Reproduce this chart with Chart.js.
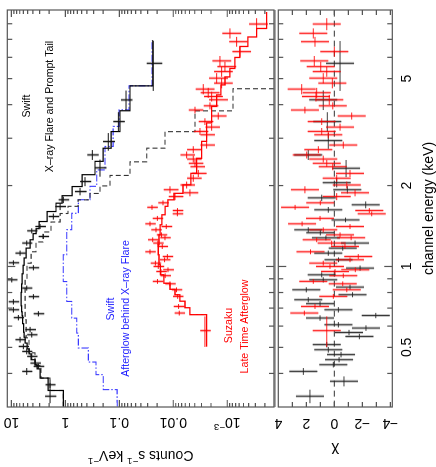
<!DOCTYPE html>
<html>
<head>
<meta charset="utf-8">
<script src="https://cdn.jsdelivr.net/npm/chart.js@4.4.1/dist/chart.umd.min.js"></script>
<style>
  html, body { margin: 0; padding: 0; background: #fff; overflow: hidden; width: 436px; height: 467px; }
  /* the plot is drawn landscape and turned a quarter turn, like the printed figure */
  #wrap { position: absolute; left: 0; top: 0; width: 467px; height: 436px;
          transform-origin: 0 0; transform: translateY(467px) rotate(-90deg); }
  #main { position: absolute; left: 0; top: 0; }
  #resid { position: absolute; left: 0; top: 262px; }
</style>
</head>
<body>
<div id="wrap">
  <canvas id="main" width="467" height="276"></canvas>
  <canvas id="resid" width="467" height="174"></canvas>
</div>
<script>
// axis ranges
const eMin = 0.301, eMax = 9.0;
const cMin = 1.36e-4, cMax = 11.9;
const chiMin = -4.14, chiMax = 4.0;

// tick values / labels
const energyTicks = [0.4, 0.5, 0.6, 0.7, 0.8, 0.9, 1, 2, 3, 4, 5, 6, 7, 8];
const energyLabels = [0.5, 1, 2, 5];
const countDecades = [10, 1, 0.1, 0.01, 0.001];
const countLabels = ['10', '1', '0.1', '0.01', '10^−3'];
const chiTicks = [-4, -3, -2, -1, 0, 1, 2, 3];
const chiLabels = [4, 2, 0, -2, -4];

// Swift (black) spectrum: energy (keV), half bin width, counts/s/keV, error
const bE  = [0.329, 0.363, 0.407, 0.425, 0.437, 0.463, 0.483, 0.504, 0.534, 0.557, 0.582, 0.645, 0.667, 0.690, 0.739, 0.772, 0.831, 0.892, 0.989, 1.032, 1.121, 1.222, 1.293, 1.357, 1.408, 1.534, 1.671, 1.770, 1.900, 2.070, 2.328, 2.601, 2.916, 3.46, 4.165, 5.7];
const bEw = [0.019, 0.016, 0.012, 0.01, 0.01, 0.012, 0.012, 0.012, 0.013, 0.013, 0.014, 0.015, 0.015, 0.016, 0.017, 0.017, 0.018, 0.02, 0.022, 0.022, 0.025, 0.027, 0.028, 0.03, 0.03, 0.04, 0.05, 0.05, 0.06, 0.08, 0.17, 0.11, 0.22, 0.29, 0.35, 1.2];
const bC  = [1.92, 1.92, 5.19, 3.16, 3.64, 4.19, 5.19, 6.0, 6.9, 4.19, 4.5, 7.42, 3.16, 9.18, 9.18, 3.91, 5.19, 9.83, 3.91, 9.18, 6.9, 5.19, 2.56, 4.19, 2.94, 1.67, 1.25, 1.09, 0.534, 0.432, 0.228, 0.316, 0.16, 0.104, 0.0751, 0.0235];
const bCe = [0.45, 0.4, 1.1, 0.7, 0.8, 0.9, 1.1, 1.3, 1.5, 0.9, 1.0, 1.6, 0.7, 2.0, 2.0, 0.85, 1.1, 2.1, 0.85, 2.0, 1.5, 1.1, 0.56, 0.9, 0.65, 0.37, 0.28, 0.24, 0.13, 0.1, 0.055, 0.075, 0.04, 0.025, 0.018, 0.0075];

// Swift total model (step)
const bModE = [0.301, 0.329, 0.363, 0.407, 0.425, 0.437, 0.463, 0.483, 0.504, 0.534, 0.557, 0.582, 0.645, 0.667, 0.690, 0.739, 0.772, 0.831, 0.892, 0.989, 1.032, 1.121, 1.222, 1.293, 1.357, 1.408, 1.534, 1.671, 1.770, 1.900, 2.070, 2.328, 2.601, 2.916, 3.46, 4.165, 5.3, 6.96];
const bModC = [1.09, 1.09, 2.09, 2.94, 3.34, 3.64, 4.31, 4.70, 5.12, 5.57, 5.82, 5.94, 6.2, 6.33, 6.47, 6.6, 6.6, 6.47, 6.33, 6.06, 5.82, 5.34, 4.5, 3.97, 3.49, 3.07, 2.18, 1.49, 1.15, 0.751, 0.49, 0.282, 0.2, 0.142, 0.097, 0.0634, 0.024, 0.024];

// X-ray flare + prompt tail component (dashed)
const flareE = [0.301, 0.329, 0.363, 0.407, 0.450, 0.506, 0.582, 0.69, 0.82, 0.97, 1.09, 1.18, 1.29, 1.40, 1.53, 1.62, 1.73, 1.81, 1.93, 2.06, 2.31, 2.60, 2.92, 3.45, 4.17, 5.04, 9.0];
const flareC = [1.09, 1.09, 1.92, 2.82, 3.64, 4.70, 5.34, 5.57, 5.57, 5.12, 4.31, 3.49, 2.59, 1.84, 1.25, 0.89, 0.58, 0.349, 0.228, 0.149, 0.0634, 0.0311, 0.01425, 0.00396, 0.000784, 0.00001, 0.00001];

// afterglow behind the flare (blue dash-dot)
const aglowE = [0.301, 0.325, 0.373, 0.42, 0.463, 0.534, 0.598, 0.690, 0.796, 0.97, 1.26, 1.49, 1.67, 1.88, 2.10, 2.49, 3.14, 3.51, 4.17, 5.3, 6.96];
const aglowC = [0.109, 0.110, 0.198, 0.27, 0.375, 0.574, 0.615, 0.761, 0.942, 1.09, 0.942, 0.761, 0.574, 0.349, 0.262, 0.184, 0.13, 0.101, 0.066, 0.0248, 0.0248];

// Suzaku (red) spectrum
const rE  = [7.98, 7.37, 6.86, 6.30, 5.82, 5.54, 5.31, 5.02, 4.81, 4.57, 4.43, 4.29, 4.17, 3.96, 3.82, 3.63, 3.46, 3.30, 3.18, 3.09, 2.83, 2.72, 2.60, 2.51, 2.42, 2.35, 2.22, 2.13, 2.01, 1.93, 1.88, 1.82, 1.66, 1.615, 1.57, 1.51, 1.408, 1.369, 1.311, 1.257, 1.222, 1.187, 1.089, 1.059, 1.029, 1.0, 0.958, 0.924, 0.880, 0.819, 0.774, 0.710, 0.671, 0.577, 1.725, 1.441, 1.279, 1.134, 0.972, 0.862];
const rEw = [0.41, 0.32, 0.29, 0.27, 0.25, 0.24, 0.23, 0.22, 0.21, 0.20, 0.19, 0.18, 0.18, 0.12, 0.11, 0.11, 0.10, 0.10, 0.095, 0.093, 0.085, 0.082, 0.078, 0.075, 0.073, 0.07, 0.067, 0.064, 0.06, 0.058, 0.056, 0.055, 0.035, 0.034, 0.033, 0.032, 0.03, 0.029, 0.028, 0.026, 0.026, 0.025, 0.023, 0.022, 0.022, 0.021, 0.02, 0.019, 0.018, 0.017, 0.016, 0.015, 0.014, 0.075, 0.036, 0.03, 0.027, 0.024, 0.02, 0.018];
const rC  = [2.855e-4, 8.91e-4, 6.70e-4, 5.82e-4, 1.365e-3, 1.103e-3, 1.27e-3, 1.571e-3, 1.27e-3, 2.78e-3, 2.25e-3, 1.945e-3, 1.571e-3, 2.09e-3, 3.96e-3, 1.468e-3, 2.59e-3, 1.945e-3, 3.20e-3, 2.41e-3, 2.41e-3, 4.26e-3, 5.65e-3, 4.26e-3, 3.96e-3, 3.69e-3, 3.44e-3, 4.26e-3, 5.65e-3, 0.01151, 4.91e-3, 9.30e-3, 0.0248, 8.36e-3, 8.40e-3, 0.0197, 0.01348, 0.0209, 0.01654, 0.02407, 0.01929, 0.01599, 0.01286, 0.0145, 0.02146, 0.01896, 0.0169, 0.01413, 0.01962, 8.72e-3, 8.29e-3, 7.98e-3, 7.74e-3, 2.59e-3, 0.01551, 0.027, 0.01425, 0.027, 0.01253, 0.01151];
const rCe = [1.08e-4, 3.4e-4, 2.5e-4, 2.2e-4, 5.2e-4, 4.2e-4, 4.8e-4, 6.0e-4, 4.8e-4, 1.06e-3, 8.6e-4, 7.4e-4, 6.0e-4, 6.3e-4, 1.19e-3, 4.4e-4, 7.8e-4, 5.8e-4, 9.6e-4, 7.2e-4, 7.2e-4, 1.28e-3, 1.7e-3, 1.28e-3, 1.19e-3, 1.11e-3, 1.03e-3, 1.28e-3, 1.7e-3, 3.5e-3, 1.47e-3, 2.8e-3, 5.5e-3, 1.84e-3, 1.85e-3, 4.3e-3, 3.0e-3, 4.6e-3, 3.6e-3, 5.3e-3, 4.2e-3, 3.5e-3, 2.8e-3, 3.2e-3, 4.7e-3, 4.2e-3, 3.7e-3, 3.1e-3, 4.3e-3, 1.9e-3, 1.8e-3, 1.8e-3, 1.7e-3, 5.7e-4, 3.4e-3, 5.9e-3, 3.1e-3, 5.9e-3, 2.8e-3, 2.5e-3];
const rChi = [0.54, 1.5, 1.38, 0, 1.43, 0.97, 0.54, 0.79, 0.14, 2.33, 1.26, 1.31, 0.36, 0.11, 2.1, -1.24, 0.9, -0.41, 0.9, 0.43, -0.64, 1.14, 1.97, 0.79, 0.54, 0.11, -1.12, -0.17, -0.89, 2.1, -1.48, -0.17, 2.8, -2.5, -2.67, 1.02, -1.12, 0.79, -0.41, 1.26, 0.19, -0.76, -1.71, -1.12, 0.79, 0.31, -0.05, -0.64, 1.5, -0.89, 0.07, 1.38, 2.14, 0.54, 1.0, 2.3, -1.2, 1.7, -1.5, -0.6];

// Suzaku model (step)
const rModE = [0.503, 0.64, 0.684, 0.721, 0.765, 0.805, 0.840, 0.893, 0.972, 1.059, 1.154, 1.257, 1.369, 1.492, 1.625, 1.725, 1.816, 1.928, 2.101, 2.348, 2.716, 3.141, 3.728, 4.166, 4.539, 4.944, 5.204, 5.717, 6.283, 6.902, 7.393, 7.984, 8.846];
const rModC = [0.0024, 0.0024, 0.00491, 0.00607, 0.00752, 0.0093, 0.0115, 0.0149, 0.0173, 0.0184, 0.0190, 0.0184, 0.0176, 0.0162, 0.0142, 0.01254, 0.0097, 0.0066, 0.0047, 0.00369, 0.00298, 0.0024, 0.00194, 0.00157, 0.00131, 0.0011, 0.000891, 0.00072, 0.000582, 0.000414, 0.000286, 0.000186, 0.000186];

// Swift residuals
const bResE   = [0.329, 0.374, 0.407, 0.431, 0.450, 0.470, 0.490, 0.512, 0.549, 0.568, 0.590, 0.607, 0.643, 0.657, 0.690, 0.727, 0.752, 0.785, 0.819, 0.838, 0.892, 0.931, 0.986, 1.059, 1.121, 1.17, 1.222, 1.278, 1.335, 1.369, 1.49, 1.625, 1.696, 1.80, 1.93, 2.05, 2.32, 2.60, 2.94, 3.46, 4.17, 5.7];
const bResEw  = [0.019, 0.016, 0.012, 0.01, 0.01, 0.011, 0.012, 0.012, 0.013, 0.013, 0.014, 0.014, 0.015, 0.015, 0.016, 0.016, 0.017, 0.017, 0.018, 0.018, 0.02, 0.02, 0.022, 0.022, 0.025, 0.025, 0.027, 0.027, 0.03, 0.03, 0.03, 0.04, 0.05, 0.05, 0.06, 0.08, 0.17, 0.11, 0.2, 0.29, 0.35, 1.2];
const bResChi = [1.74, -0.69, 2.21, 0.07, -0.34, -0.48, 0.43, 0.54, -1.79, -1.05, -2.26, -0.29, 1.02, -2.96, -0.29, 1.02, 1.86, -1.3, 2.0, -1.12, 0.79, 0.9, -1.84, -0.3, 0.43, -0.6, -1.48, 0.6, 1.0, 1.86, -0.8, 0.43, -2.24, 0.9, -0.93, -0.17, -0.84, 1.86, 0.43, 0.5, 0.79, -0.41];

// in-plot notes (landscape pixel positions)
const notes = [
  { text: 'Swift', color: '#000', x: 361, y: 27.5 },
  { text: 'X–ray Flare and Prompt Tail', color: '#000', x: 360.5, y: 50.3 },
  { text: 'Swift', color: '#2222ff', x: 158, y: 111 },
  { text: 'Afterglow behind X–ray Flare', color: '#2222ff', x: 158.5, y: 126 },
  { text: 'Suzaku', color: '#ff0000', x: 141.5, y: 229 },
  { text: 'Late Time Afterglow', color: '#ff0000', x: 140.5, y: 245 }
];

const FONT = '"Liberation Sans", Arial, Helvetica, sans-serif';
const AX = '#555';

// error crosses as broken line segments; part: 'x', 'y' or 'xy'
function crossData(e, ew, v, ve, part) {
  const pts = [];
  for (let i = 0; i < e.length; i++) {
    const err = Array.isArray(ve) ? ve[i] : ve;
    if (part !== 'y') {
      pts.push({ x: e[i] - ew[i], y: v[i] }, { x: e[i] + ew[i], y: v[i] }, { x: e[i], y: null });
    }
    if (part !== 'x') {
      pts.push({ x: e[i], y: v[i] - err }, { x: e[i], y: v[i] + err }, { x: e[i], y: null });
    }
  }
  return pts;
}

function xy(xs, ys) {
  return xs.map((x, i) => ({ x: x, y: ys[i] }));
}

function richText(ctx, str, x, y, size) {
  const items = str.split(/(\^\S+)/).filter(s => s.length).map(p =>
    p[0] === '^' ? { t: p.slice(1), sup: true } : { t: p, sup: false });
  let w = 0;
  items.forEach(it => {
    ctx.font = (it.sup ? size * 0.7 : size) + 'px ' + FONT;
    it.w = ctx.measureText(it.t).width;
    w += it.w;
  });
  let cx = x - w / 2;
  ctx.textAlign = 'left';
  ctx.textBaseline = 'middle';
  items.forEach(it => {
    ctx.font = (it.sup ? size * 0.7 : size) + 'px ' + FONT;
    ctx.fillText(it.t, cx, it.sup ? y - size * 0.38 : y);
    cx += it.w;
  });
}

// text reading upwards in the landscape frame
function upText(ctx, str, x, y, size) {
  ctx.save();
  ctx.translate(x, y);
  ctx.rotate(-Math.PI / 2);
  richText(ctx, str, 0, 0, size);
  ctx.restore();
}

function energyTickMarks(ctx, xs, a) {
  energyTicks.forEach(v => {
    const p = xs.getPixelForValue(v);
    const L = v === 1 ? 8 : 5;
    ctx.beginPath();
    ctx.moveTo(p, a.top); ctx.lineTo(p, a.top + L);
    ctx.moveTo(p, a.bottom); ctx.lineTo(p, a.bottom - L);
    ctx.stroke();
  });
}

function sideTick(ctx, ys, a, v, L) {
  const p = ys.getPixelForValue(v);
  ctx.beginPath();
  ctx.moveTo(a.left, p); ctx.lineTo(a.left + L, p);
  ctx.moveTo(a.right, p); ctx.lineTo(a.right - L, p);
  ctx.stroke();
}

const countMinor = [];
[1e-4, 1e-3, 1e-2, 0.1, 1].forEach(d => {
  for (let m = 2; m <= 9; m++) if (m * d > cMin && m * d < cMax) countMinor.push(m * d);
});

const mainDeco = {
  id: 'mainDeco',
  afterDraw(chart) {
    const { ctx, chartArea: a, scales: { x, y } } = chart;
    ctx.save();
    ctx.strokeStyle = '#aaa';
    ctx.lineWidth = 3.5;
    ctx.beginPath(); ctx.moveTo(a.left, a.bottom + 1.5); ctx.lineTo(a.right, a.bottom + 1.5); ctx.stroke();
    ctx.strokeStyle = AX;
    ctx.lineWidth = 1.2;
    ctx.strokeRect(a.left, a.top, a.width, a.height);
    energyTickMarks(ctx, x, a);
    countDecades.forEach(v => sideTick(ctx, y, a, v, 7));
    countMinor.forEach(v => sideTick(ctx, y, a, v, 4));
    ctx.fillStyle = '#000';
    countDecades.forEach((v, i) => upText(ctx, countLabels[i], a.left - 14.5, y.getPixelForValue(v), 14));
    upText(ctx, 'Counts s^−1 keV^−1', 12, (a.top + a.bottom) / 2, 14);
    ctx.font = '10.6px ' + FONT;
    ctx.textAlign = 'center';
    ctx.textBaseline = 'middle';
    notes.forEach(n => {
      ctx.fillStyle = n.color;
      ctx.fillText(n.text, n.x, n.y);
    });
    ctx.restore();
  }
};

const residDeco = {
  id: 'residDeco',
  afterDraw(chart) {
    const { ctx, chartArea: a, scales: { x, y } } = chart;
    ctx.save();
    ctx.strokeStyle = AX;
    ctx.lineWidth = 1.2;
    ctx.strokeRect(a.left, a.top, a.width, a.height);
    energyTickMarks(ctx, x, a);
    chiTicks.forEach(v => sideTick(ctx, y, a, v, 5));
    ctx.fillStyle = '#000';
    chiLabels.forEach(v => upText(ctx, v < 0 ? '−' + Math.abs(v) : String(v), a.left - 16, y.getPixelForValue(v), 14));
    upText(ctx, 'χ', 17, (a.top + a.bottom) / 2, 15);
    energyLabels.forEach(v => richText(ctx, String(v), x.getPixelForValue(v), a.bottom + 15.2, 14));
    richText(ctx, 'channel energy (keV)', (a.left + a.right) / 2, a.bottom + 36.7, 14);
    ctx.restore();
  }
};

function baseOptions(yType, yMin, yMax, pad) {
  return {
    responsive: false,
    animation: false,
    events: [],
    layout: { padding: pad },
    elements: { point: { radius: 0 }, line: { tension: 0, fill: false } },
    plugins: { legend: { display: false }, tooltip: { enabled: false } },
    scales: {
      x: { type: 'logarithmic', min: eMin, max: eMax, display: false },
      y: { type: yType, min: yMin, max: yMax, display: false }
    }
  };
}

const seg = { pointRadius: 0, spanGaps: false, fill: false };

new Chart(document.getElementById('main'), {
  type: 'line',
  data: {
    datasets: [
      Object.assign({ data: crossData(bE, bEw, bC, bCe, 'y'), borderColor: 'rgba(120,120,120,0.4)', borderWidth: 3, order: 10 }, seg),
      Object.assign({ data: crossData(rE, rEw, rC, rCe, 'y'), borderColor: 'rgba(255,110,110,0.4)', borderWidth: 3, order: 10 }, seg),
      Object.assign({ data: xy(flareE, flareC), borderColor: '#333', borderWidth: 1.1, borderDash: [5, 3], stepped: 'middle', order: 4 }, seg),
      Object.assign({ data: xy(aglowE, aglowC), borderColor: '#3a3aff', borderWidth: 1.1, borderDash: [7, 2, 1.5, 2], stepped: 'middle', order: 4 }, seg),
      Object.assign({ data: xy(bModE, bModC), borderColor: '#000', borderWidth: 1.2, stepped: 'middle', order: 3 }, seg),
      Object.assign({ data: xy(rModE, rModC), borderColor: '#ff0000', borderWidth: 1.3, stepped: 'middle', order: 3 }, seg),
      Object.assign({ data: crossData(bE, bEw, bC, bCe, 'xy'), borderColor: '#111', borderWidth: 1, order: 1 }, seg),
      Object.assign({ data: crossData(rE, rEw, rC, rCe, 'xy'), borderColor: 'rgba(255,0,0,0.9)', borderWidth: 1, order: 1 }, seg)
    ]
  },
  options: baseOptions('logarithmic', cMin, cMax, { left: 60, right: 10, top: 7.3, bottom: 2 }),
  plugins: [mainDeco]
});

new Chart(document.getElementById('resid'), {
  type: 'line',
  data: {
    datasets: [
      Object.assign({ data: [{ x: eMin, y: 0 }, { x: eMax, y: 0 }], borderColor: '#333', borderWidth: 1, borderDash: [6, 4], order: 5 }, seg),
      Object.assign({ data: crossData(bResE, bResEw, bResChi, 1, 'y'), borderColor: 'rgba(120,120,120,0.4)', borderWidth: 3, order: 10 }, seg),
      Object.assign({ data: crossData(rE, rEw, rChi, 1, 'y'), borderColor: 'rgba(255,110,110,0.4)', borderWidth: 3, order: 10 }, seg),
      Object.assign({ data: crossData(bResE, bResEw, bResChi, 1, 'xy'), borderColor: 'rgba(30,30,30,0.85)', borderWidth: 1, order: 2 }, seg),
      Object.assign({ data: crossData(rE, rEw, rChi, 1, 'xy'), borderColor: 'rgba(255,0,0,0.85)', borderWidth: 1, order: 1 }, seg)
    ]
  },
  options: baseOptions('linear', chiMin, chiMax, { left: 60, right: 10, top: 16.3, bottom: 43.7 }),
  plugins: [residDeco]
});
</script>
</body>
</html>
